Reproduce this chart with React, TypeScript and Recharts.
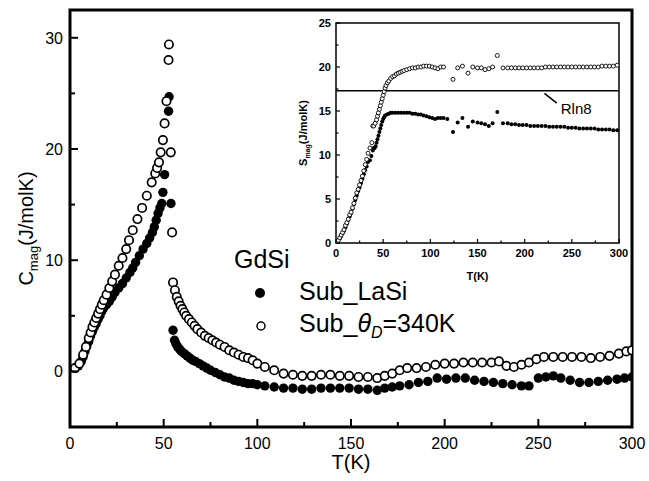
import React from 'react';
import { ScatterChart, Scatter, XAxis, YAxis, ReferenceArea, ReferenceLine } from 'recharts';

const FONT = '"Liberation Sans", Arial, Helvetica, sans-serif';

// ---------- main panel: C_mag vs T ----------
const lasiT = [2.7, 4.5, 6, 7, 8, 9, 10, 11, 12, 13, 14, 15, 16, 17, 18, 19.5, 21, 22.5, 24, 26, 28, 30, 32, 33.5, 35, 37, 39, 41, 42.5, 44, 45, 46, 47, 48, 49, 49.6, 50.5, 52.6, 52.9, 53.9, 55, 55.8, 56.5, 57.5, 58.5, 59.5, 61, 62.5, 64, 65.5, 67, 69, 71, 73, 75, 77.5, 80, 82.5, 85, 87.5, 90, 92.5, 95, 97.5, 100, 104, 109, 114, 119, 124, 129, 134, 139, 144, 149, 154, 159, 164, 168, 172, 176, 181, 186, 191, 196, 201, 206, 211, 216, 221, 226, 231, 236, 241, 245, 250, 254, 258, 262, 267, 272, 277, 282, 287, 292, 296, 300];
const lasiC = [0.3, 0.5, 0.9, 1.3, 1.8, 2.3, 2.7, 3.2, 3.6, 4.0, 4.3, 4.7, 5.0, 5.4, 5.7, 6.0, 6.3, 6.7, 7.1, 7.5, 7.9, 8.4, 8.9, 9.3, 9.8, 10.4, 11.0, 11.5, 12.0, 12.5, 13.0, 13.6, 14.2, 14.7, 15.1, 16.1, 17.7, 23.4, 24.7, 15.1, 3.7, 2.8, 2.5, 2.2, 2.0, 1.8, 1.6, 1.4, 1.2, 1.0, 0.9, 0.7, 0.5, 0.3, 0.1, -0.1, -0.3, -0.5, -0.6, -0.8, -0.9, -1.0, -1.1, -1.1, -1.2, -1.3, -1.4, -1.5, -1.5, -1.6, -1.6, -1.5, -1.5, -1.5, -1.5, -1.6, -1.6, -1.7, -1.5, -1.4, -1.3, -1.2, -1.0, -0.9, -0.6, -0.7, -0.6, -0.6, -0.8, -0.9, -1.0, -1.1, -1.2, -1.3, -1.3, -0.6, -0.5, -0.4, -0.6, -0.8, -1.0, -1.0, -0.9, -0.8, -0.7, -0.6, -0.5];

const debyeT = [2.7, 5, 7, 8.5, 10, 11, 12, 13, 14, 15, 16, 17, 18, 19.5, 21, 22.5, 24, 26, 28, 30, 31.5, 33.5, 36, 38.5, 41, 43.6, 45.5, 46.5, 47.5, 48.4, 49.6, 50.5, 51.5, 52.6, 52.8, 53.8, 54.5, 55, 56, 57, 58, 59, 60, 61, 62, 63.5, 65, 66.5, 68, 70, 72, 74, 76, 78, 80, 82.5, 85, 87.5, 90, 92.5, 95, 97.5, 100, 104, 109, 114, 119, 124, 129, 134, 139, 144, 149, 154, 159, 164, 168, 172, 176, 180, 185, 190, 195, 200, 205, 210, 215, 220, 225, 229, 233, 237, 241, 245, 249, 253, 258, 263, 268, 273, 278, 283, 288, 293, 297, 300];
const debyeC = [0.3, 0.7, 1.5, 2.2, 3.0, 3.5, 4.0, 4.4, 4.8, 5.2, 5.6, 6.0, 6.4, 6.9, 7.5, 8.1, 8.7, 9.5, 10.2, 11.0, 11.8, 12.7, 13.7, 14.7, 15.8, 17.0, 17.8, 18.3, 18.8, 19.7, 20.8, 22.3, 24.3, 28.0, 29.4, 19.7, 12.5, 8.0, 7.3, 6.7, 6.3, 5.9, 5.6, 5.3, 5.0, 4.7, 4.4, 4.1, 3.8, 3.5, 3.2, 3.0, 2.8, 2.6, 2.4, 2.2, 1.9, 1.7, 1.5, 1.3, 1.2, 1.0, 0.7, 0.4, 0.1, -0.2, -0.3, -0.4, -0.4, -0.3, -0.3, -0.4, -0.4, -0.5, -0.5, -0.6, -0.4, -0.2, 0.1, 0.3, 0.3, 0.4, 0.6, 0.7, 0.7, 0.8, 0.8, 0.8, 0.8, 0.9, 0.5, 0.4, 0.6, 0.8, 1.1, 1.3, 1.3, 1.3, 1.3, 1.3, 1.2, 1.3, 1.4, 1.6, 1.8, 1.9];

const mainXTicks = [0, 25, 50, 75, 100, 125, 150, 175, 200, 225, 250, 275, 300];
const mainYTicks = [0, 5, 10, 15, 20, 25, 30];
const mainXDomain = [0, 300];
const mainYDomain = [-5, 32.5];

// ---------- inset: S_mag vs T ----------
const insetOpenT = [1, 2.5, 4, 5.5, 7, 8.5, 10, 11.5, 13, 14.5, 16, 17.5, 19, 20.5, 22, 23.5, 25, 26.5, 28, 29.5, 31, 32.5, 34, 36, 38, 39, 40, 41.5, 43, 44, 45, 46, 47, 48, 49, 50, 51, 52, 53, 54.5, 56, 58, 60, 62, 64, 66, 68, 70, 72, 75, 78, 81, 84, 87, 90, 93, 96, 99, 102, 105, 108, 111, 114, 124, 129, 134, 140, 145, 150, 154, 158, 162, 166, 171, 177, 182, 186, 190, 194, 198, 202, 206, 210, 214, 218, 222, 226, 230, 234, 238, 242, 246, 250, 254, 258, 262, 266, 270, 274, 278, 282, 286, 290, 294, 298];
const insetOpenS = [0.1, 0.3, 0.6, 0.9, 1.2, 1.5, 2.0, 2.3, 2.7, 3.2, 3.5, 4.0, 4.5, 5.1, 5.7, 6.1, 6.6, 7.1, 7.6, 8.2, 8.9, 9.5, 10.2, 10.8, 11.4, 13.3, 13.3, 13.6, 14.0, 14.4, 14.8, 15.2, 15.6, 16.0, 16.4, 16.8, 17.2, 17.6, 17.9, 18.2, 18.4, 18.7, 18.9, 19.0, 19.2, 19.3, 19.4, 19.5, 19.6, 19.7, 19.8, 19.9, 19.9, 20.0, 20.0, 20.1, 20.1, 20.1, 20.0, 19.9, 19.8, 20.0, 20.0, 18.6, 19.9, 20.1, 19.3, 20.0, 19.9, 19.9, 19.7, 19.8, 20.0, 21.3, 19.9, 19.9, 19.9, 19.9, 19.9, 19.9, 19.9, 19.9, 19.9, 19.9, 19.9, 20.0, 20.0, 20.0, 20.0, 20.0, 20.0, 20.0, 20.0, 20.0, 20.0, 20.0, 20.0, 20.0, 20.0, 20.0, 20.1, 20.1, 20.1, 20.1, 20.2];

const insetFilledT = [1, 2.5, 4, 5.5, 7, 8.5, 10, 11.5, 13, 14.5, 16, 17.5, 19, 20.5, 22, 23.5, 25, 26.5, 28, 29.5, 31, 32.5, 34, 36, 37.5, 39, 40, 41, 42, 43, 44, 45, 46, 47, 48, 49, 50, 51, 52, 54, 56, 58, 60, 63, 66, 69, 72, 75, 78, 81, 84, 87, 90, 93, 96, 99, 102, 105, 108, 111, 114, 118, 124, 129, 134, 140, 145, 150, 154, 158, 162, 166, 171, 177, 182, 186, 190, 194, 198, 202, 206, 210, 214, 218, 222, 226, 230, 234, 238, 242, 246, 250, 254, 258, 262, 266, 270, 274, 278, 282, 286, 290, 294, 298];
const insetFilledS = [0.1, 0.3, 0.5, 0.8, 1.1, 1.4, 1.8, 2.2, 2.6, 3.0, 3.4, 3.9, 4.4, 4.9, 5.4, 5.9, 6.3, 6.8, 7.3, 7.8, 8.3, 8.7, 9.2, 9.4, 9.9, 10.5, 10.8, 10.8, 11.0, 11.4, 11.8, 12.2, 12.6, 13.0, 13.4, 13.8, 14.1, 14.3, 14.5, 14.6, 14.7, 14.8, 14.8, 14.8, 14.8, 14.8, 14.8, 14.8, 14.8, 14.7, 14.7, 14.6, 14.6, 14.5, 14.4, 14.3, 14.2, 14.1, 14.2, 14.2, 14.2, 14.1, 12.6, 13.7, 14.2, 13.2, 13.8, 13.7, 13.6, 13.5, 13.3, 13.6, 14.9, 13.6, 13.6, 13.5, 13.5, 13.4, 13.4, 13.4, 13.3, 13.3, 13.3, 13.3, 13.3, 13.2, 13.2, 13.2, 13.2, 13.2, 13.1, 13.1, 13.1, 13.0, 13.0, 13.0, 13.0, 13.0, 12.9, 12.9, 12.9, 12.9, 12.8, 12.8];

const insetXTicks = [0, 25, 50, 75, 100, 125, 150, 175, 200, 225, 250, 275, 300];
const insetYTicks = [0, 2.5, 5, 7.5, 10, 12.5, 15, 17.5, 20, 22.5, 25];
const insetXDomain = [0, 300];
const insetYDomain = [0, 25];
const RLN8 = 17.29; // R ln 8
const rlnArrow = [{ x: 221, y: 17.0 }, { x: 234, y: 15.9 }];

const zip = (xs: number[], ys: number[]) => xs.map((x, i) => ({ x, y: ys[i] }));
const lasiData = zip(lasiT, lasiC);
const debyeData = zip(debyeT, debyeC);
const insetOpenData = zip(insetOpenT, insetOpenS);
const insetFilledData = zip(insetFilledT, insetFilledS);

// ---------- shapes ----------
const FilledDot = (r: number) => (p: any) => <circle cx={p.cx} cy={p.cy} r={r} fill="#000" stroke="none" />;
const OpenDot = (r: number, sw: number) => (p: any) => <circle cx={p.cx} cy={p.cy} r={r} fill="#fff" stroke="#000" strokeWidth={sw} />;

// ---------- ticks (drawn inward) ----------
const MainXTick = (p: any) => {
  const v = p.payload.value;
  const major = v % 50 === 0;
  return (
    <g>
      <line x1={p.x} x2={p.x} y1={p.y} y2={p.y - (major ? 8 : 5)} stroke="#000" strokeWidth={2} />
      {major && (
        <text x={p.x} y={p.y + 22} textAnchor="middle" fontSize={16} fontFamily={FONT} fill="#000">{v}</text>
      )}
    </g>
  );
};
const MainYTick = (p: any) => {
  const v = p.payload.value;
  const major = v % 10 === 0;
  return (
    <g>
      <line x1={p.x} x2={p.x + (major ? 8 : 5)} y1={p.y} y2={p.y} stroke="#000" strokeWidth={2} />
      {major && (
        <text x={p.x - 7} y={p.y} dy="0.36em" textAnchor="end" fontSize={16} fontFamily={FONT} fill="#000">{v}</text>
      )}
    </g>
  );
};
const InsetXTick = (p: any) => {
  const v = p.payload.value;
  const major = v % 50 === 0;
  return (
    <g>
      <line x1={p.x} x2={p.x} y1={p.y} y2={p.y - (major ? 4 : 2.5)} stroke="#000" strokeWidth={1.2} />
      {major && (
        <text x={p.x} y={p.y + 14} textAnchor="middle" fontSize={11} fontWeight="bold" fontFamily={FONT} fill="#000">{v}</text>
      )}
    </g>
  );
};
const InsetYTick = (p: any) => {
  const v = p.payload.value;
  const major = v % 5 === 0;
  return (
    <g>
      <line x1={p.x} x2={p.x + (major ? 4 : 2.5)} y1={p.y} y2={p.y} stroke="#000" strokeWidth={1.2} />
      {major && (
        <text x={p.x - 5} y={p.y} dy="0.36em" textAnchor="end" fontSize={11} fontWeight="bold" fontFamily={FONT} fill="#000">{v}</text>
      )}
    </g>
  );
};

// ---------- axis labels ----------
const MainXLabel = (props: any) => {
  const vb = props.viewBox || { x: 70, y: 427, width: 562, height: 54 };
  return (
    <text x={vb.x + vb.width / 2} y={vb.y + 42} textAnchor="middle" fontSize={20} fontFamily={FONT} fill="#000">T(K)</text>
  );
};
const MainYLabel = (props: any) => {
  const vb = props.viewBox || { x: 0, y: 10, width: 70, height: 417 };
  const cx = vb.x + 33;
  const cy = vb.y + vb.height / 2 + 10;
  return (
    <text transform={`rotate(-90, ${cx}, ${cy})`} x={cx} y={cy} textAnchor="middle" fontSize={20} fontFamily={FONT} fill="#000">
      C<tspan fontSize={13} dy={5}>mag</tspan><tspan dy={-5}>(J/molK)</tspan>
    </text>
  );
};
const InsetXLabel = (props: any) => {
  const vb = props.viewBox || { x: 56, y: 228, width: 283, height: 47 };
  return (
    <text x={vb.x + vb.width / 2} y={vb.y + 37} textAnchor="middle" fontSize={11} fontWeight="bold" fontFamily={FONT} fill="#000">T(K)</text>
  );
};
const InsetYLabel = (props: any) => {
  const vb = props.viewBox || { x: 0, y: 8, width: 56, height: 220 };
  const cx = vb.x + 27;
  const cy = vb.y + vb.height / 2;
  return (
    <text transform={`rotate(-90, ${cx}, ${cy})`} x={cx} y={cy} textAnchor="middle" fontSize={11} fontWeight="bold" fontFamily={FONT} fill="#000">
      S<tspan fontSize={7} dy={3}>mag</tspan><tspan dy={-3}>(J/molK)</tspan>
    </text>
  );
};
const RlnLabel = (props: any) => {
  const vb = props.viewBox || { x: 0, y: 0, width: 0, height: 0 };
  return (
    <text x={vb.x + vb.width + 4} y={vb.y + vb.height + 11} fontSize={15} fontFamily={FONT} fill="#000">Rln8</text>
  );
};

export default function App() {
  return (
    <div style={{ position: 'absolute', left: 0, top: 0, width: 649, height: 481, background: '#fff', fontFamily: FONT }}>
      <div style={{ position: 'absolute', left: 0, top: 0 }}>
        <ScatterChart width={649} height={481} margin={{ top: 10, right: 17, bottom: 0, left: 0 }}>
          <XAxis
            dataKey="x" type="number" domain={mainXDomain} ticks={mainXTicks} interval={0}
            tickSize={0} tickMargin={0} tickLine={false} axisLine={false} height={54}
            tick={<MainXTick />} label={<MainXLabel />} allowDataOverflow
          />
          <YAxis
            dataKey="y" type="number" domain={mainYDomain} ticks={mainYTicks} interval={0}
            tickSize={0} tickMargin={0} tickLine={false} axisLine={false} width={70}
            tick={<MainYTick />} label={<MainYLabel />} allowDataOverflow
          />
          <ReferenceArea x1={0} x2={300} y1={-5} y2={32.5} fill="none" stroke="#000" strokeWidth={3} ifOverflow="visible" />
          <Scatter name="Sub_LaSi" data={lasiData} shape={FilledDot(4.7)} isAnimationActive={false} />
          <Scatter name="Sub_θD=340K" data={debyeData} shape={OpenDot(4.2, 1.7)} isAnimationActive={false} />
        </ScatterChart>
      </div>
      <div style={{ position: 'absolute', left: 280, top: 15 }}>
        <ScatterChart width={355} height={275} margin={{ top: 8, right: 16, bottom: 0, left: 0 }}>
          <XAxis
            dataKey="x" type="number" domain={insetXDomain} ticks={insetXTicks} interval={0}
            tickSize={0} tickMargin={0} tickLine={false} axisLine={false} height={47}
            tick={<InsetXTick />} label={<InsetXLabel />} allowDataOverflow
          />
          <YAxis
            dataKey="y" type="number" domain={insetYDomain} ticks={insetYTicks} interval={0}
            tickSize={0} tickMargin={0} tickLine={false} axisLine={false} width={56}
            tick={<InsetYTick />} label={<InsetYLabel />} allowDataOverflow
          />
          <ReferenceArea x1={0} x2={300} y1={0} y2={25} fill="none" stroke="#000" strokeWidth={1.5} ifOverflow="visible" />
          <ReferenceLine y={RLN8} stroke="#000" strokeWidth={1.5} />
          <ReferenceLine segment={rlnArrow} stroke="#000" strokeWidth={1.5} label={<RlnLabel />} ifOverflow="visible" />
          <Scatter name="S filled" data={insetFilledData} shape={FilledDot(2)} isAnimationActive={false} />
          <Scatter name="S open" data={insetOpenData} shape={OpenDot(2, 0.9)} isAnimationActive={false} />
        </ScatterChart>
      </div>
      <svg width={649} height={481} style={{ position: 'absolute', left: 0, top: 0, pointerEvents: 'none' }}>
        <text x={234} y={268} fontSize={25} fontFamily={FONT} fill="#000">GdSi</text>
        <circle cx={260} cy={293} r={5} fill="#000" />
        <text x={299} y={300} fontSize={25} fontFamily={FONT} fill="#000">Sub_LaSi</text>
        <circle cx={261} cy={326} r={4} fill="#fff" stroke="#000" strokeWidth={1.5} />
        <text x={299} y={332} fontSize={25} fontFamily={FONT} fill="#000">
          Sub_<tspan fontStyle="italic">θ</tspan><tspan fontStyle="italic" fontSize={16} dy={6}>D</tspan><tspan dy={-6}>=340K</tspan>
        </text>
      </svg>
    </div>
  );
}
